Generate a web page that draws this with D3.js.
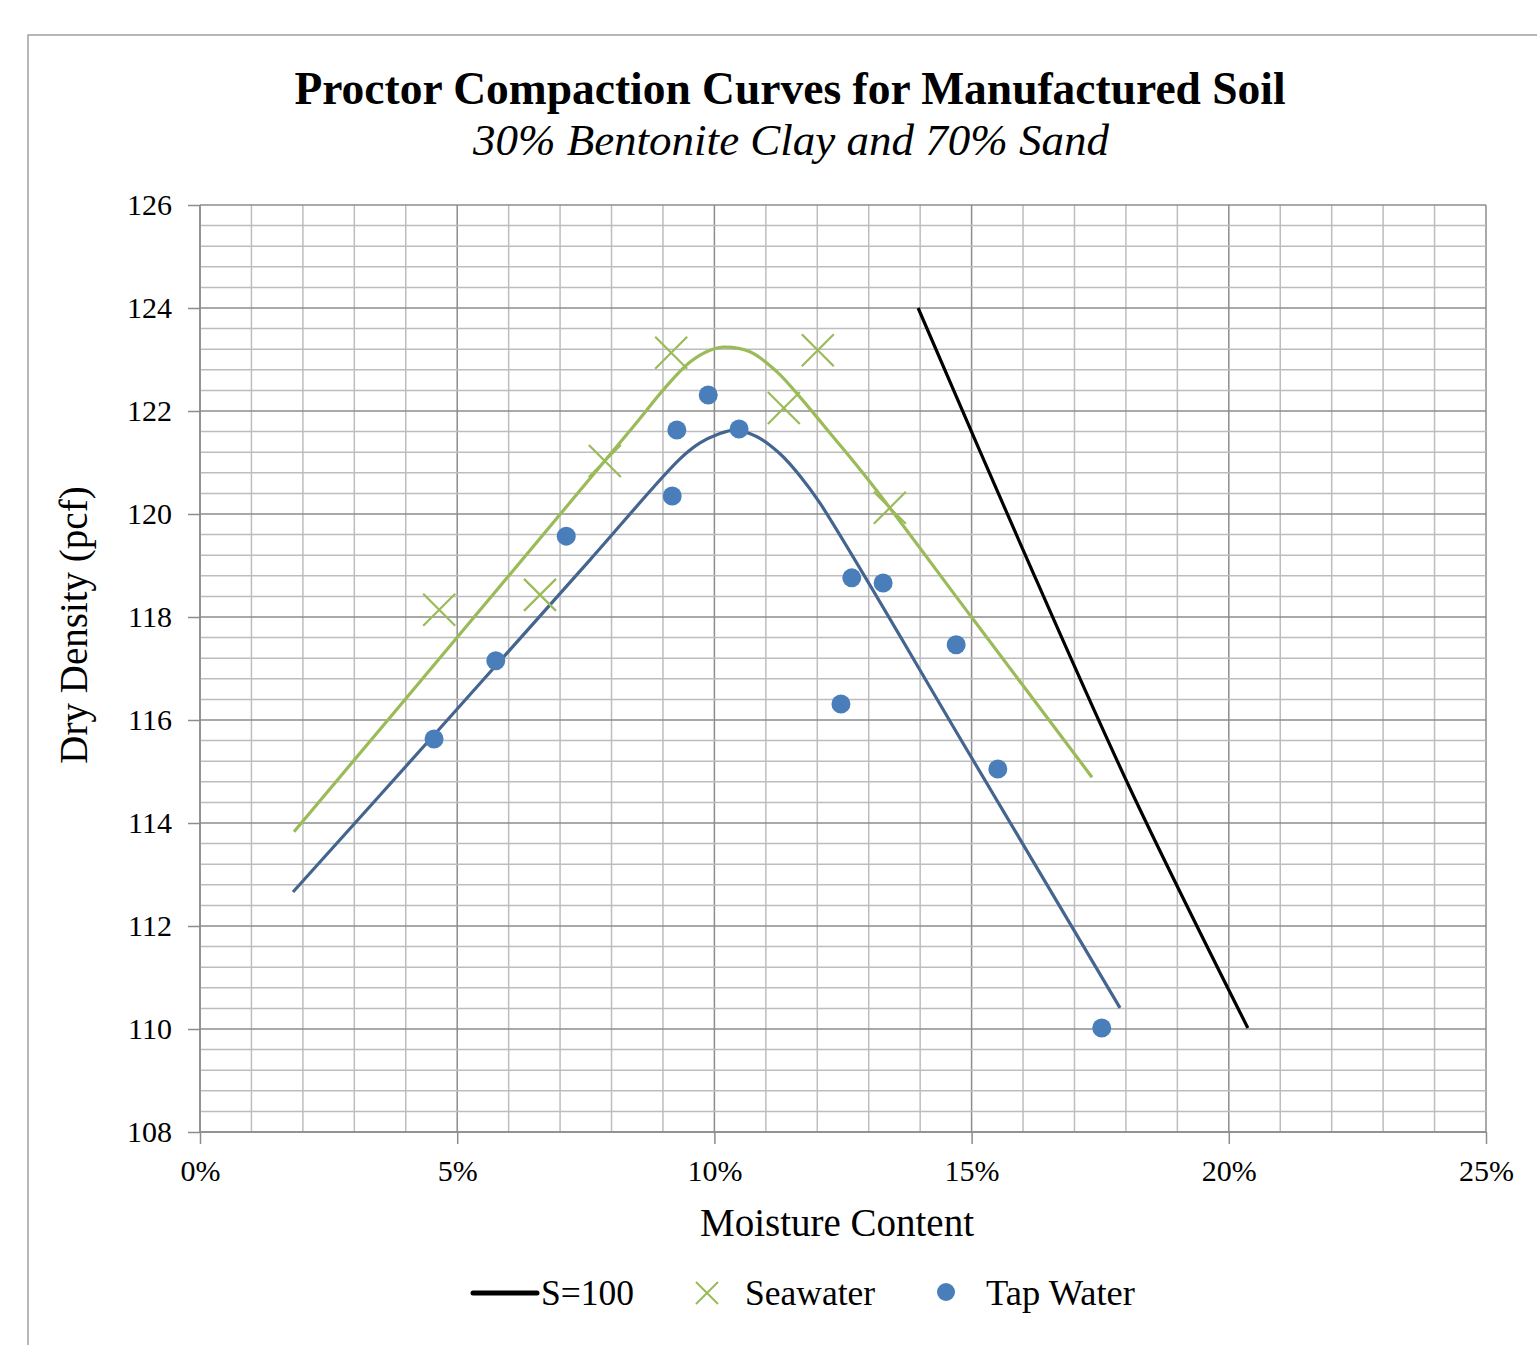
<!DOCTYPE html>
<html><head><meta charset="utf-8">
<script src="https://cdn.jsdelivr.net/npm/d3@7"></script>
<style>body{margin:0;background:#fff;}svg{display:block;}text{font-family:"Liberation Serif","Times New Roman",serif;fill:#000;}</style>
</head><body>
<svg id="chart" width="1537" height="1345"></svg>
<script>
// ---- data ----
const xTicks = [0, 0.05, 0.10, 0.15, 0.20, 0.25];
const yTicks = [108, 110, 112, 114, 116, 118, 120, 122, 124, 126];

const tapWaterPoints = [
  [0.0455,115.63],[0.0575,117.15],[0.0712,119.57],[0.0918,120.35],[0.0927,121.63],
  [0.0988,122.31],[0.1048,121.65],[0.1246,116.31],[0.1267,118.76],[0.1328,118.66],
  [0.1470,117.46],[0.1551,115.05],[0.1753,110.02]
];
const seawaterPoints = [
  [0.0465,118.14],[0.0661,118.43],[0.0787,121.03],[0.0916,123.13],
  [0.1135,122.06],[0.1201,123.18],[0.1341,120.12]
];
const seawaterCurve = [
  [0.01827,113.83],[0.05054,117.67],[0.08418,121.69],[0.09040,122.45],[0.09526,122.95],
  [0.09914,123.18],[0.10167,123.24],[0.10692,123.15],[0.11217,122.76],[0.11664,122.27],
  [0.12306,121.50],[0.13025,120.62],[0.15027,117.96],[0.17340,114.89]
];
const tapWaterCurve = [
  [0.01808,112.66],[0.04666,115.84],[0.07582,119.11],[0.09331,121.07],[0.09720,121.38],
  [0.10070,121.55],[0.10401,121.63],[0.10828,121.50],[0.11275,121.17],[0.11664,120.74],
  [0.12053,120.21],[0.14969,115.32],[0.17885,110.41]
];
const saturationLine = [
  [0.1396,124.00],[0.1594,119.44],[0.1808,114.67],[0.2037,110.02]
];

const titleText = "Proctor Compaction Curves for Manufactured Soil";
const subtitleText = "30% Bentonite Clay and 70% Sand";
const xLabel = "Moisture Content";
const yLabel = "Dry Density (pcf)";
const legendItems = ["S=100", "Seawater", "Tap Water"];

// ---- layout ----
const svg = d3.select("#chart");
const L = 200, R = 1486, T = 205, B = 1132;
const x = d3.scaleLinear().domain([0, 0.25]).range([L, R]);
const y = d3.scaleLinear().domain([108, 126]).range([B, T]);

// outer border
svg.append("path").attr("d", "M28,1345 L28,35 L1537,35").attr("fill","none").attr("stroke","#a0a0a0").attr("stroke-width",1.5);

// title
svg.append("text").attr("x", 790).attr("y", 104).attr("text-anchor","middle")
  .style("font-size","45.5px").style("font-weight","bold").text(titleText);
svg.append("text").attr("x", 791).attr("y", 155).attr("text-anchor","middle")
  .style("font-size","45px").style("font-style","italic").text(subtitleText);

// grid
const g = svg.append("g");
const minorX = d3.range(0, 26).map(d => d / 100);
const minorY = d3.range(0, 46).map(d => 108 + d * 0.4);
g.selectAll(".mx").data(minorX).join("line")
  .attr("x1", d => x(d)).attr("x2", d => x(d)).attr("y1", T).attr("y2", B)
  .attr("stroke", d => (Math.round(d*100) % 5 === 0) ? "#8c8c8c" : "#bdbdbd").attr("stroke-width", 1.5);
g.selectAll(".my").data(minorY).join("line")
  .attr("x1", L).attr("x2", R).attr("y1", d => y(d)).attr("y2", d => y(d))
  .attr("stroke", d => (Math.abs((d - 108) / 2 - Math.round((d - 108) / 2)) < 1e-6) ? "#8c8c8c" : "#bdbdbd").attr("stroke-width", 1.5);

// axes
const xAxis = d3.axisBottom(x).tickValues(xTicks).tickFormat(d3.format(".0%")).tickSize(12);
const yAxis = d3.axisLeft(y).tickValues(yTicks).tickSize(12).tickPadding(16);
const gx = svg.append("g").attr("transform", `translate(0,${B})`).call(xAxis);
const gy = svg.append("g").attr("transform", `translate(${L},0)`).call(yAxis);
[gx, gy].forEach(a => {
  a.select(".domain").attr("stroke", "#8c8c8c").attr("stroke-width", 1.5);
  a.selectAll(".tick line").attr("stroke", "#8c8c8c").attr("stroke-width", 1.5);
  a.selectAll(".tick text").style("font-size", "30px").style("font-family", "Liberation Serif").attr("fill", "#000");
});
gx.selectAll(".tick text").attr("y", 49).attr("dy", 0);
gy.selectAll(".tick text").attr("dy", "0.33em");
gy.select(".domain").attr("d", `M0,${B}V${T}`);
gx.select(".domain").attr("d", `M${L},0H${R}`);

// axis titles
svg.append("text").attr("x", 837).attr("y", 1236).attr("text-anchor", "middle").style("font-size", "39px").text(xLabel);
svg.append("text").attr("transform", "translate(87,625) rotate(-90)").attr("text-anchor", "middle").style("font-size", "39px").text(yLabel);

// lines
const line = d3.line().x(d => x(d[0])).y(d => y(d[1])).curve(d3.curveCatmullRom.alpha(0.5));
svg.append("path").datum(seawaterCurve).attr("d", line).attr("fill","none").attr("stroke","#9bbb59").attr("stroke-width",3.2);
svg.append("path").datum(tapWaterCurve).attr("d", line).attr("fill","none").attr("stroke","#44658f").attr("stroke-width",3.2);
svg.append("path").datum(saturationLine).attr("d", line).attr("fill","none").attr("stroke","#000").attr("stroke-width",3.2);

// markers
const xs = 16;
svg.selectAll(".sx").data(seawaterPoints).join("path")
  .attr("d", d => { const cx = x(d[0]), cy = y(d[1]); return `M${cx-xs},${cy-xs}L${cx+xs},${cy+xs}M${cx-xs},${cy+xs}L${cx+xs},${cy-xs}`; })
  .attr("stroke", "#9bbb59").attr("stroke-width", 2.2).attr("fill", "none");
svg.selectAll(".tc").data(tapWaterPoints).join("circle")
  .attr("cx", d => x(d[0])).attr("cy", d => y(d[1])).attr("r", 9.5).attr("fill", "#4a7ebb");

// legend
const lg = svg.append("g");
lg.append("line").attr("x1", 473).attr("x2", 537).attr("y1", 1293).attr("y2", 1293).attr("stroke","#000").attr("stroke-width",5).attr("stroke-linecap","round");
lg.append("text").attr("x", 541).attr("y", 1305).style("font-size","35.5px").text(legendItems[0]);
const lx = 707, ly = 1293, ls = 11;
lg.append("path").attr("d", `M${lx-ls},${ly-ls}L${lx+ls},${ly+ls}M${lx-ls},${ly+ls}L${lx+ls},${ly-ls}`).attr("stroke","#9bbb59").attr("stroke-width",2);
lg.append("text").attr("x", 745).attr("y", 1305).style("font-size","35.5px").text(legendItems[1]);
lg.append("circle").attr("cx", 946).attr("cy", 1292).attr("r", 9).attr("fill", "#4a7ebb");
lg.append("text").attr("x", 986).attr("y", 1305).style("font-size","36.5px").text(legendItems[2]);
</script>
</body></html>
